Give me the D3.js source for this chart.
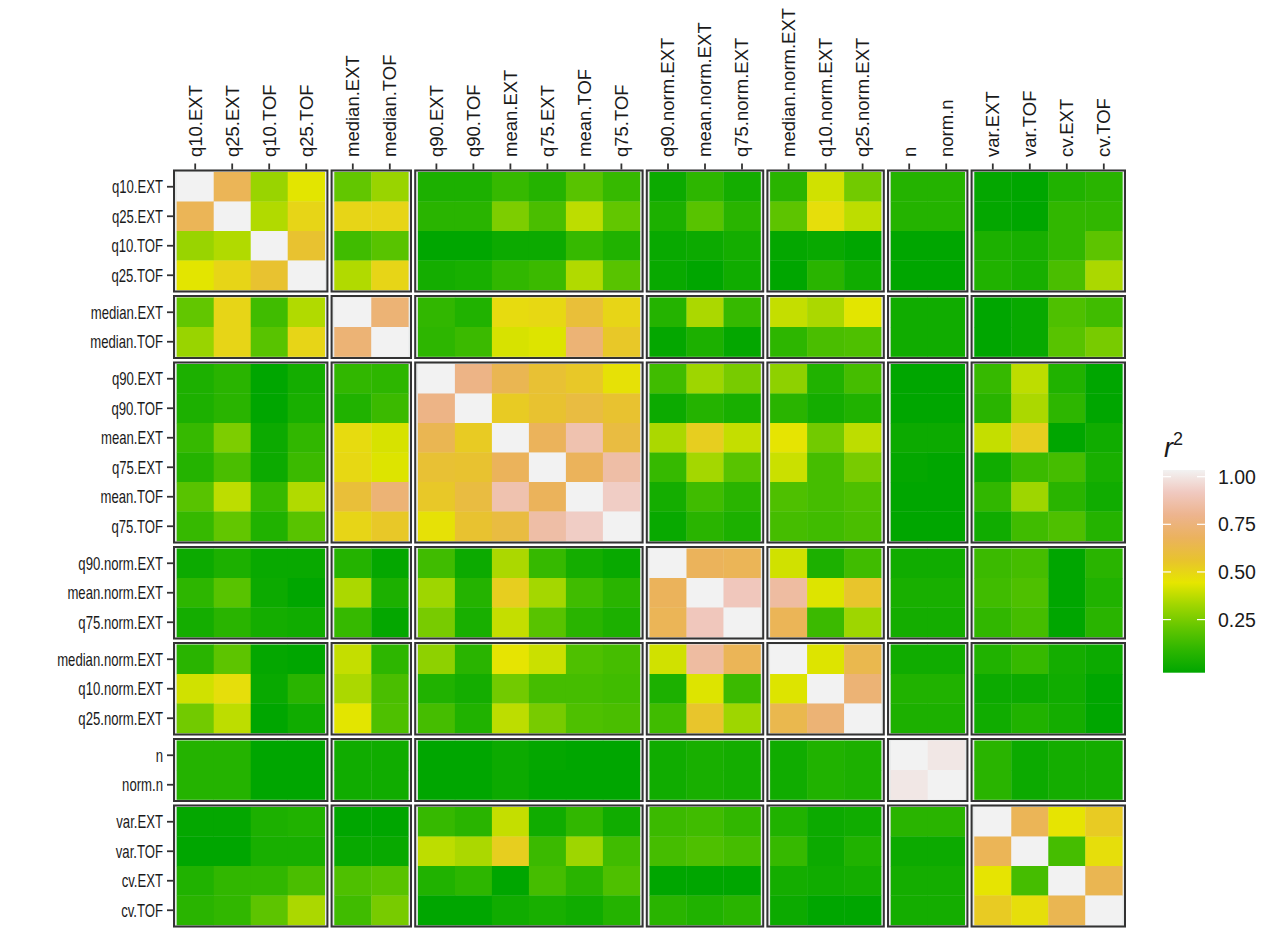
<!DOCTYPE html>
<html><head><meta charset="utf-8">
<script src="https://cdn.jsdelivr.net/npm/d3@7"></script>
<style>body{margin:0;background:#fff} svg{display:block}</style>
</head><body><svg id="chart" width="1270" height="928"></svg>
<script>
// ---- data ----
const group1 = ["q10.EXT","q25.EXT","q10.TOF","q25.TOF"];
const group2 = ["median.EXT","median.TOF"];
const group3 = ["q90.EXT","q90.TOF","mean.EXT","q75.EXT","mean.TOF","q75.TOF"];
const group4 = ["q90.norm.EXT","mean.norm.EXT","q75.norm.EXT"];
const group5 = ["median.norm.EXT","q10.norm.EXT","q25.norm.EXT"];
const group6 = ["n","norm.n"];
const group7 = ["var.EXT","var.TOF","cv.EXT","cv.TOF"];
const groups = [group1,group2,group3,group4,group5,group6,group7];
const variables = groups.flat();

// r^2 values, lower triangle (row i, columns 0..i), in the order of `variables`
const r2Lower = [
 [1],
 [0.65,1],
 [0.32,0.36,1],
 [0.44,0.50,0.56,1],
 [0.22,0.50,0.15,0.36,1],
 [0.32,0.50,0.20,0.50,0.72,1],
 [0.07,0.10,0.00,0.05,0.12,0.11,1],
 [0.07,0.10,0.00,0.06,0.08,0.14,0.76,1],
 [0.13,0.27,0.03,0.12,0.48,0.42,0.64,0.53,1],
 [0.09,0.17,0.03,0.14,0.49,0.43,0.57,0.56,0.66,1],
 [0.20,0.38,0.13,0.36,0.58,0.72,0.54,0.60,0.85,0.66,1],
 [0.13,0.22,0.08,0.20,0.50,0.54,0.46,0.56,0.60,0.83,0.90,1],
 [0.03,0.07,0.02,0.02,0.09,0.01,0.15,0.03,0.35,0.13,0.05,0.02,1],
 [0.11,0.20,0.03,0.00,0.35,0.07,0.33,0.09,0.52,0.34,0.15,0.10,0.66,1],
 [0.05,0.10,0.05,0.04,0.13,0.01,0.26,0.06,0.39,0.20,0.10,0.07,0.65,0.88,1],
 [0.10,0.21,0.01,0.00,0.39,0.11,0.30,0.10,0.45,0.40,0.18,0.16,0.41,0.82,0.65,1],
 [0.41,0.47,0.02,0.10,0.35,0.17,0.08,0.05,0.25,0.16,0.16,0.15,0.07,0.43,0.14,0.43,1],
 [0.25,0.38,0.00,0.04,0.44,0.18,0.16,0.08,0.38,0.26,0.18,0.17,0.15,0.55,0.33,0.63,0.72,1],
 [0.09,0.09,0.00,0.00,0.04,0.04,0.00,0.00,0.03,0.01,0.00,0.00,0.04,0.06,0.05,0.04,0.08,0.07,1],
 [0.09,0.09,0.00,0.00,0.04,0.04,0.00,0.00,0.03,0.00,0.00,0.00,0.04,0.06,0.05,0.04,0.08,0.07,0.97,1],
 [0.01,0.01,0.07,0.08,0.00,0.00,0.13,0.10,0.39,0.04,0.12,0.04,0.14,0.15,0.12,0.08,0.03,0.04,0.10,0.10,1],
 [0.00,0.00,0.06,0.06,0.02,0.02,0.38,0.35,0.52,0.14,0.33,0.15,0.16,0.18,0.16,0.13,0.03,0.08,0.03,0.03,0.65,1],
 [0.08,0.12,0.12,0.17,0.18,0.20,0.08,0.11,0.00,0.16,0.10,0.18,0.00,0.00,0.00,0.05,0.04,0.05,0.05,0.05,0.45,0.16,1],
 [0.10,0.12,0.21,0.35,0.15,0.26,0.00,0.00,0.04,0.06,0.04,0.09,0.10,0.08,0.10,0.03,0.00,0.00,0.05,0.05,0.53,0.47,0.64,1]
];
const legendTicks = [0.25,0.50,0.75,1.00];
const terrainColors = ["#00A600","#2DB600","#63C600","#A0D600","#E6E600","#E8C32E","#EBB25E","#EDB48E","#F0C9C0","#F2F2F2"];

// ---- layout ----
const svg = d3.select("#chart");
const left0 = 173, top0 = 169.5;
const cellW = 37, cellH = 29.5;
const padX = 3.7, padY = 2.5, gapX = 2.2, gapY = 2.5;
const ink = "#1a1a1a", tickCol = "#333333";
const font = "'Liberation Sans', Arial, Helvetica, sans-serif";

const color = d3.scaleLinear()
  .domain(terrainColors.map((c,i)=>i/(terrainColors.length-1)))
  .range(terrainColors)
  .interpolate(d3.interpolateRgb)
  .clamp(true);

const r2 = (a,b) => a>=b ? r2Lower[a][b] : r2Lower[b][a];
const idx = new Map(variables.map((v,i)=>[v,i]));

let xo = left0, yo = top0;
const xPanels = groups.map(g => {
  const w = g.length*cellW + 2*padX;
  const p = {x0: xo, w, scale: d3.scaleBand().domain(g).range([xo+padX, xo+padX+g.length*cellW]).padding(0)};
  xo += w + gapX; return p;
});
const yPanels = groups.map(g => {
  const h = g.length*cellH + 2*padY;
  const p = {y0: yo, h, scale: d3.scaleBand().domain(g).range([yo+padY, yo+padY+g.length*cellH]).padding(0)};
  yo += h + gapY; return p;
});

const gPanels = svg.append("g");
yPanels.forEach((yp, gi) => {
  xPanels.forEach((xp, gj) => {
    const g = gPanels.append("g");
    g.append("rect").attr("x", xp.x0).attr("y", yp.y0).attr("width", xp.w).attr("height", yp.h)
      .attr("fill", "#e6e9e9");
    const cells = [];
    groups[gi].forEach(rv => groups[gj].forEach(cv => cells.push({rv, cv, v: r2(idx.get(rv), idx.get(cv))})));
    g.selectAll("rect.tile").data(cells).join("rect").attr("class","tile")
      .attr("x", d => xp.scale(d.cv)).attr("y", d => yp.scale(d.rv))
      .attr("width", xp.scale.bandwidth()+0.3).attr("height", yp.scale.bandwidth()+0.3)
      .attr("fill", d => color(d.v));
    g.append("rect").attr("x", xp.x0+1).attr("y", yp.y0+1).attr("width", xp.w-2).attr("height", yp.h-2)
      .attr("fill", "none").attr("stroke", tickCol).attr("stroke-width", 2);
  });
});

// ---- axes ----
xPanels.forEach(xp => {
  const ax = svg.append("g").attr("transform", `translate(0,${top0})`)
    .call(d3.axisTop(xp.scale).tickSize(6).tickPadding(6));
  ax.select(".domain").remove();
  ax.selectAll(".tick line").attr("stroke", tickCol).attr("stroke-width", 1.8);
  ax.selectAll(".tick text")
    .attr("font-family", font).attr("font-size", 18.5).attr("fill", ink)
    .attr("transform", "rotate(-90)").attr("x", 12.5).attr("y", 0).attr("dy", "0.35em")
    .style("text-anchor", "start");
});
yPanels.forEach(yp => {
  const ax = svg.append("g").attr("transform", `translate(${left0},0)`)
    .call(d3.axisLeft(yp.scale).tickSize(6).tickPadding(4));
  ax.select(".domain").remove();
  ax.selectAll(".tick line").attr("stroke", tickCol).attr("stroke-width", 1.8);
  ax.selectAll(".tick text")
    .attr("font-family", font).attr("font-size", 18).attr("fill", ink)
    .attr("x", 0).attr("dy", "0.36em")
    .attr("transform", "translate(-10,0) scale(0.73,1)")
    .style("text-anchor", "end");
});

// ---- legend ----
const barX = 1163, barW = 42, barTop = 470, barBot = 672.7;
const defs = svg.append("defs");
const grad = defs.append("linearGradient").attr("id","terrain").attr("x1",0).attr("y1",1).attr("x2",0).attr("y2",0);
terrainColors.forEach((c,i)=>grad.append("stop").attr("offset", i/(terrainColors.length-1)).attr("stop-color", c));
svg.append("rect").attr("x", barX).attr("y", barTop).attr("width", barW).attr("height", barBot-barTop).attr("fill","url(#terrain)");
const ly = d3.scaleLinear().domain([0,1]).range([barBot-5.5, barTop+6.7]);
const lg = svg.append("g");
lg.selectAll("line.l").data(legendTicks).join("line").attr("x1", barX).attr("x2", barX+8)
  .attr("y1", d=>ly(d)).attr("y2", d=>ly(d)).attr("stroke","#fff").attr("stroke-width",1.2);
lg.selectAll("line.r").data(legendTicks).join("line").attr("x1", barX+barW-8).attr("x2", barX+barW)
  .attr("y1", d=>ly(d)).attr("y2", d=>ly(d)).attr("stroke","#fff").attr("stroke-width",1.2);
lg.selectAll("text").data(legendTicks).join("text").attr("x", 1218).attr("y", d=>ly(d)).attr("dy","0.36em")
  .attr("font-family", font).attr("font-size", 19.5).attr("fill", ink)
  .text(d=>d3.format(".2f")(d));
const title = svg.append("text").attr("x", 1164).attr("y", 457)
  .attr("font-family", font).attr("font-size", 27).attr("fill", ink);
title.append("tspan").attr("font-style","italic").text("r");
title.append("tspan").attr("font-size", 18).attr("dy", -12).text("2");
</script></body></html>
